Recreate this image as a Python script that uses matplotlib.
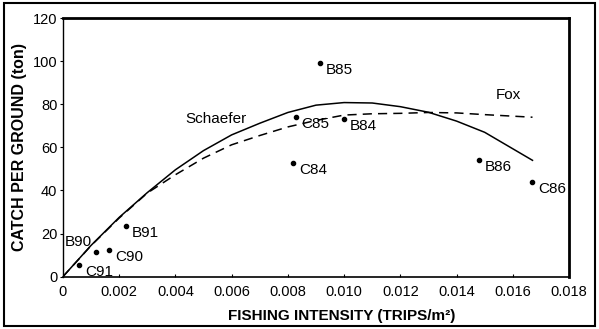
import matplotlib
matplotlib.use("Agg")
import matplotlib.pyplot as plt
from matplotlib.patches import Rectangle

plt.rcParams["font.family"] = ["Liberation Sans", "DejaVu Sans"]

# observed catch per ground vs fishing intensity
pt_labels = ["C91", "B90", "C90", "B91", "C84", "C85", "B85", "B84", "B86", "C86"]
pt_x = [0.00058, 0.00118, 0.00164, 0.00223, 0.0082, 0.00828, 0.00915, 0.00998, 0.01478, 0.0167]
pt_y = [5.2, 11.6, 12.5, 23.3, 52.8, 74.0, 99.3, 73.2, 54.2, 43.9]

# fitted curves
curve_x = [0, 0.001, 0.002, 0.003, 0.004, 0.005, 0.006, 0.007, 0.008, 0.009,
           0.010, 0.011, 0.012, 0.013, 0.014, 0.015, 0.0167]
schaefer_y = [0, 14.5, 27.5, 39.0, 49.6, 58.5, 65.8, 71.2, 76.2, 79.6,
              80.8, 80.6, 78.9, 76.3, 72.2, 67.0, 54.0]
fox_y = [0, 14.4, 27.2, 38.8, 47.3, 55.0, 61.2, 65.5, 69.5, 72.5,
         75.0, 75.6, 75.8, 76.2, 76.0, 75.2, 74.0]

fig = plt.figure(figsize=(5.99, 3.29), dpi=100)
ax = fig.add_axes([0.105, 0.159, 0.845, 0.786])

ax.plot(curve_x, schaefer_y, color="black", lw=1.1)
ax.plot(curve_x, fox_y, color="black", lw=1.1, dashes=(6, 4))
ax.plot(pt_x, pt_y, "o", color="black", ms=3, ls="none")

# label offsets in pixels (right/below of each point, B90 goes up-left)
for lab, x, y in zip(pt_labels, pt_x, pt_y):
    if lab == "B90":
        ax.annotate(lab, (x, y), xytext=(-4, 10), textcoords="offset pixels",
                    ha="right", va="center", fontsize=11)
    else:
        ax.annotate(lab, (x, y), xytext=(6, -7), textcoords="offset pixels",
                    ha="left", va="center", fontsize=11)

ax.text(0.00546, 73.2, "Schaefer", ha="center", va="center", fontsize=11)
ax.text(0.01585, 84.3, "Fox", ha="center", va="center", fontsize=11)

ax.set_xlim(0, 0.018)
ax.set_ylim(0, 120)
ax.set_xticks([0, 0.002, 0.004, 0.006, 0.008, 0.010, 0.012, 0.014, 0.016, 0.018])
ax.set_xticklabels(["0", "0.002", "0.004", "0.006", "0.008", "0.010", "0.012",
                    "0.014", "0.016", "0.018"])
ax.set_yticks([0, 20, 40, 60, 80, 100, 120])
ax.tick_params(axis="x", direction="in", length=2, labelsize=10.5, pad=6)
ax.tick_params(axis="y", direction="out", length=2, labelsize=10.5, pad=2)

ax.spines["top"].set_linewidth(2)
ax.spines["right"].set_linewidth(2)
ax.spines["left"].set_linewidth(1)
ax.spines["bottom"].set_linewidth(1.2)

ax.set_xlabel("FISHING INTENSITY (TRIPS/m²)", fontsize=11, fontweight="bold", va="center")
ax.xaxis.set_label_coords(0.551, -0.151)
ax.set_ylabel("CATCH PER GROUND (ton)", fontsize=11.5, fontweight="bold", labelpad=4)

# outer frame around the whole figure
fig.patches.append(Rectangle((0.006, 0.01), 0.988, 0.98, transform=fig.transFigure,
                             fill=False, edgecolor="black", lw=1.5))

fig.savefig("out.png", dpi=100)
